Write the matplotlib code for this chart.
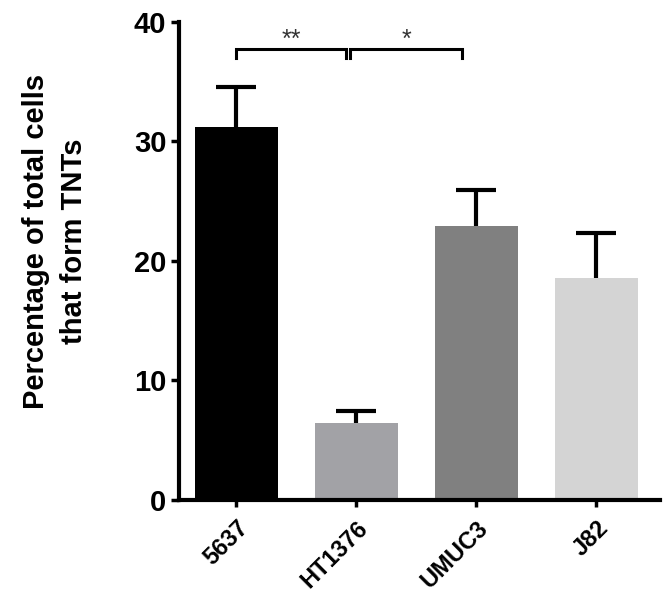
import matplotlib
matplotlib.use('Agg')
import matplotlib.pyplot as plt

# Data
cell_lines = ['5637', 'HT1376', 'UMUC3', 'J82']
pct_tnt = [31.2, 6.4, 22.9, 18.6]
sem = [3.4, 1.0, 3.0, 3.7]
bar_colors = ['#000000', '#a2a2a6', '#808080', '#d4d4d4']

# significance brackets: (start, end, label)
sig_pairs = [(0, 0.91, '**'), (0.95, 1.88, '*')]

plt.rcParams['font.family'] = ['Liberation Sans', 'DejaVu Sans']
plt.rcParams['font.weight'] = 'bold'

fig = plt.figure(figsize=(6.7, 6.03), dpi=100)
ax = fig.add_axes([0.267, 0.171, 0.718, 0.7925])

x = range(len(cell_lines))
ax.bar(x, pct_tnt, width=0.69, color=bar_colors, zorder=2)
# symmetric error bars drawn underneath, so only the upper half shows
ax.errorbar(x, pct_tnt, yerr=sem, fmt='none', ecolor='black',
            elinewidth=3, capsize=14.5, capthick=3, zorder=1)

# brackets
for x0, x1, label in sig_pairs:
    ax.plot([x0, x0, x1, x1], [37.0, 37.7, 37.7, 37.0], color='black', lw=2.2,
            solid_joinstyle='miter', clip_on=False)
    ax.text((x0 + x1) / 2, 37.9, label, ha='center', va='baseline', fontsize=18,
            fontweight='normal', color='#333333')

ax.set_xlim(-0.48, 3.53)
ax.set_ylim(0, 40)
ax.set_yticks([0, 10, 20, 30, 40])
ax.set_xticks(list(x))
ax.set_xticklabels(cell_lines, rotation=45, ha='right', rotation_mode='anchor',
                   fontsize=17, fontweight='bold')
ax.tick_params(axis='y', labelsize=21, width=2.5, length=6, pad=3)
ax.tick_params(axis='x', width=2.5, length=5, pad=7)
for lbl in ax.get_yticklabels():
    lbl.set_fontweight('bold')

ax.spines['top'].set_visible(False)
ax.spines['right'].set_visible(False)
ax.spines['left'].set_linewidth(3)
ax.spines['bottom'].set_linewidth(3)

fig.text(0.082, 0.60, 'Percentage of total cells\nthat form TNTs', rotation=90,
         ha='center', va='center', multialignment='center', fontsize=21,
         fontweight='bold', linespacing=1.45)

fig.savefig('out.png', dpi=100)
